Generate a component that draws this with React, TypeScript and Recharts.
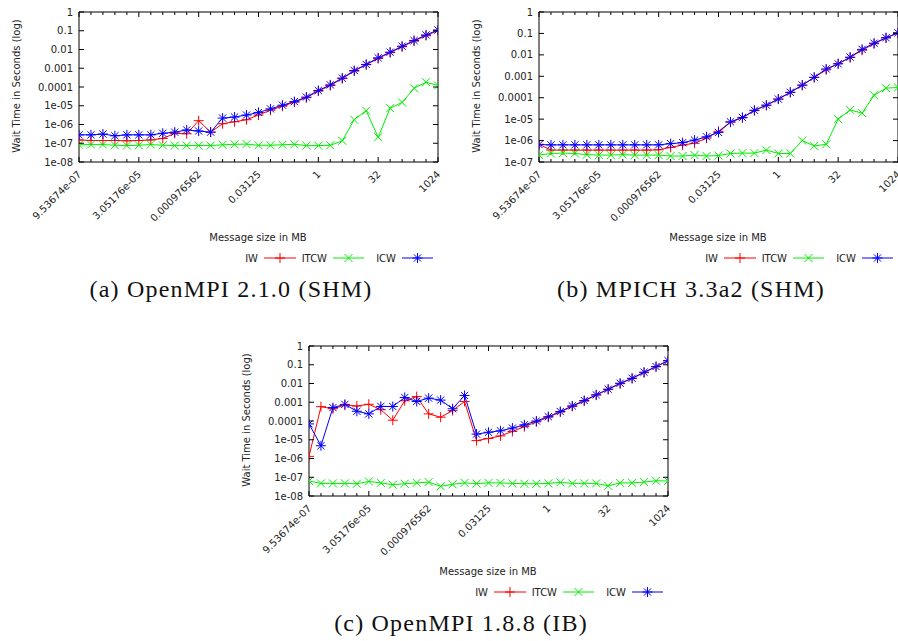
import React from 'react';
import { LineChart, Line, XAxis, YAxis, ReferenceArea } from 'recharts';

// message sizes in bytes, plotted in MB
const sizeBytes = [1, 2, 4, 8, 16, 32, 64, 128, 256, 512, 1024, 2048, 4096, 8192, 16384, 32768,
  65536, 131072, 262144, 524288, 1048576, 2097152, 4194304, 8388608, 16777216, 33554432,
  67108864, 134217728, 268435456, 536870912, 1073741824];
const sizeMB = sizeBytes.map((b) => b / 1048576);
const xTickLabels = ['9.53674e-07', '3.05176e-05', '0.000976562', '0.03125', '1', '32', '1024'];

const yTicks8 = [1e-8, 1e-7, 1e-6, 1e-5, 1e-4, 1e-3, 1e-2, 1e-1, 1];
const yLabels8 = ['1e-08', '1e-07', '1e-06', '1e-05', '0.0001', '0.001', '0.01', '0.1', '1'];
const yTicks7 = [1e-7, 1e-6, 1e-5, 1e-4, 1e-3, 1e-2, 1e-1, 1];
const yLabels7 = ['1e-07', '1e-06', '1e-05', '0.0001', '0.001', '0.01', '0.1', '1'];

// (a) OpenMPI 2.1.0 (SHM)
const iwA = [1.5e-7, 1.4e-7, 1.4e-7, 1.4e-7, 1.35e-7, 1.4e-7, 1.5e-7, 1.8e-7, 3.3e-7, 3.2e-7, 1.6e-6,
  3.9e-7, 1.1e-6, 1.4e-6, 1.8e-6, 3.2e-6, 5.8e-6, 9.5e-6, 1.55e-5, 2.7e-5, 6e-5, 1.2e-4, 2.8e-4,
  7e-4, 1.55e-3, 3.3e-3, 6.8e-3, 1.4e-2, 2.8e-2, 5.5e-2, 0.1];
const itcwA = [8.3e-8, 8.5e-8, 8.5e-8, 7.8e-8, 7.5e-8, 7.8e-8, 8.5e-8, 7.8e-8, 7.5e-8, 7.5e-8, 7.5e-8,
  7.5e-8, 8.3e-8, 8.8e-8, 9e-8, 7.8e-8, 7.8e-8, 8.3e-8, 8.8e-8, 7.5e-8, 7.5e-8, 7.8e-8, 1.35e-7,
  1.8e-6, 5.5e-6, 2.1e-7, 7.4e-6, 1.5e-5, 8.5e-5, 1.8e-4, 1.2e-4];
const icwA = [2.8e-7, 2.8e-7, 3.1e-7, 2.5e-7, 2.8e-7, 2.8e-7, 2.8e-7, 3.4e-7, 3.9e-7, 5.1e-7, 4.5e-7,
  3.9e-7, 2.2e-6, 2.5e-6, 3.2e-6, 4.4e-6, 6.8e-6, 1.07e-5, 1.66e-5, 2.9e-5, 6.5e-5, 1.3e-4, 3e-4,
  7.6e-4, 1.6e-3, 3.6e-3, 7.2e-3, 1.5e-2, 3e-2, 6e-2, 0.11];

// (b) MPICH 3.3a2 (SHM)
const iwB = [6.7e-7, 3.6e-7, 3.6e-7, 3.6e-7, 3.6e-7, 3.6e-7, 3.6e-7, 3.6e-7, 3.6e-7, 3.6e-7, 3.7e-7,
  4.8e-7, 6.2e-7, 7.5e-7, 1.3e-6, 2.7e-6, 7.2e-6, 1.15e-5, 2.5e-5, 4.4e-5, 8.5e-5, 1.75e-4, 3.8e-4,
  8.8e-4, 2e-3, 3.9e-3, 7.5e-3, 1.65e-2, 3.3e-2, 6.2e-2, 0.105];
const itcwB = [2.1e-7, 2.5e-7, 2.6e-7, 2.5e-7, 2.2e-7, 2.1e-7, 2.1e-7, 2.2e-7, 2.1e-7, 2.1e-7, 2.1e-7,
  1.9e-7, 1.9e-7, 2.1e-7, 1.9e-7, 2e-7, 2.5e-7, 2.6e-7, 2.6e-7, 3.6e-7, 2.5e-7, 2.5e-7, 1e-6,
  5.6e-7, 6.7e-7, 1e-5, 2.7e-5, 1.9e-5, 1.3e-4, 2.8e-4, 3e-4];
const icwB = [6.5e-7, 6.3e-7, 6.3e-7, 6.3e-7, 6.3e-7, 6.3e-7, 6.3e-7, 6.3e-7, 6.3e-7, 6.3e-7, 6.3e-7,
  7.2e-7, 8e-7, 1.05e-6, 1.5e-6, 2.4e-6, 7.5e-6, 1.2e-5, 2.6e-5, 4.5e-5, 8.7e-5, 1.8e-4, 3.9e-4,
  9e-4, 2.2e-3, 3.8e-3, 7.8e-3, 1.8e-2, 3.5e-2, 6.3e-2, 0.107];

// (c) OpenMPI 1.8.8 (IB)
const iwC = [1.3e-6, 5.8e-4, 4.5e-4, 7e-4, 6.3e-4, 7.8e-4, 4e-4, 1.1e-4, 1.2e-3, 2e-3, 2.4e-4,
  1.6e-4, 3.6e-4, 1.1e-3, 9e-6, 1.17e-5, 1.6e-5, 2.8e-5, 5e-5, 9e-5, 1.6e-4, 3e-4, 6e-4,
  1.15e-3, 2.4e-3, 4.8e-3, 9.8e-3, 1.85e-2, 3.8e-2, 7.8e-2, 0.16];
const itcwC = [6.3e-8, 4.7e-8, 4.7e-8, 4.7e-8, 4.5e-8, 6e-8, 5e-8, 4e-8, 4.5e-8, 5e-8, 5.5e-8,
  3.3e-8, 4.2e-8, 5e-8, 4.6e-8, 5e-8, 5e-8, 4.7e-8, 4.5e-8, 4.5e-8, 4.7e-8, 5.3e-8, 4.7e-8,
  4.7e-8, 4.7e-8, 3.5e-8, 5e-8, 5e-8, 5.5e-8, 6.5e-8, 6.3e-8];
const icwC = [7e-5, 4.8e-6, 5.2e-4, 7.7e-4, 3.3e-4, 2.4e-4, 6e-4, 5.9e-4, 1.8e-3, 1.1e-3, 1.66e-3,
  1.3e-3, 4.5e-4, 2.3e-3, 2e-5, 2.5e-5, 3e-5, 4.2e-5, 6.3e-5, 1e-4, 1.7e-4, 3.2e-4, 6.4e-4,
  1.24e-3, 2.5e-3, 5e-3, 1.03e-2, 1.9e-2, 4e-2, 8e-2, 0.166];

const RED = '#ff0000';
const GREEN = '#00ee00';
const BLUE = '#0000ff';
const FONT = 'DejaVu Sans';

const PLOT_L = 79;
const PLOT_T = 12;
const PLOT_W = 359;
const PLOT_H = 150;
const CHART_W = 450;
const CHART_H = 232;

function Plus({ cx, cy, color }: any) {
  const r = 5;
  return (
    <g stroke={color} strokeWidth={1}>
      <line x1={cx - r} y1={cy} x2={cx + r} y2={cy} />
      <line x1={cx} y1={cy - r} x2={cx} y2={cy + r} />
    </g>
  );
}

function Cross({ cx, cy, color }: any) {
  const r = 4;
  return (
    <g stroke={color} strokeWidth={1}>
      <line x1={cx - r} y1={cy - r} x2={cx + r} y2={cy + r} />
      <line x1={cx - r} y1={cy + r} x2={cx + r} y2={cy - r} />
    </g>
  );
}

function Star({ cx, cy, color }: any) {
  const r = 5;
  const d = 3.6;
  return (
    <g stroke={color} strokeWidth={1}>
      <line x1={cx - r} y1={cy} x2={cx + r} y2={cy} />
      <line x1={cx} y1={cy - r} x2={cx} y2={cy + r} />
      <line x1={cx - d} y1={cy - d} x2={cx + d} y2={cy + d} />
      <line x1={cx - d} y1={cy + d} x2={cx + d} y2={cy - d} />
    </g>
  );
}

function XTick(props: any) {
  const { x, y, payload } = props;
  const idx = sizeMB.findIndex((v) => Math.abs(v - payload.value) / v < 1e-6);
  const major = idx % 5 === 0;
  const len = major ? 5 : 3;
  return (
    <g>
      <line x1={x} y1={y} x2={x} y2={y - len} stroke="#000" />
      <line x1={x} y1={PLOT_T} x2={x} y2={PLOT_T + len} stroke="#000" />
      {major && (
        <text
          transform={`translate(${x + 3},${y + 13}) rotate(-45)`}
          textAnchor="end"
          fontFamily={FONT}
          fontSize={10}
          fill="#222"
        >
          {xTickLabels[idx / 5]}
        </text>
      )}
    </g>
  );
}

function makeYTick(labels: string[], ticks: number[]) {
  return function YTick(props: any) {
    const { x, y, payload } = props;
    const idx = ticks.findIndex((v) => Math.abs(v - payload.value) / v < 1e-6);
    return (
      <g>
        <line x1={x} y1={y} x2={x + 5} y2={y} stroke="#000" />
        <line x1={PLOT_L + PLOT_W - 5} y1={y} x2={PLOT_L + PLOT_W} y2={y} stroke="#000" />
        <text x={x - 6} y={y} dy="0.35em" textAnchor="end" fontFamily={FONT} fontSize={10} fill="#222">
          {labels[idx]}
        </text>
      </g>
    );
  };
}

function Legend() {
  const y = 258;
  const txt = { fontFamily: FONT, fontSize: 10, fill: '#222', textAnchor: 'end' as const };
  return (
    <g>
      <text x={258} y={y} dy="0.35em" {...txt}>IW</text>
      <line x1={264} y1={y} x2={296} y2={y} stroke={RED} />
      <Plus cx={280} cy={y} color={RED} />
      <text x={327} y={y} dy="0.35em" {...txt}>ITCW</text>
      <line x1={333} y1={y} x2={364} y2={y} stroke={GREEN} />
      <Cross cx={348.5} cy={y} color={GREEN} />
      <text x={396} y={y} dy="0.35em" {...txt}>ICW</text>
      <line x1={402} y1={y} x2={433} y2={y} stroke={BLUE} />
      <Star cx={417.5} cy={y} color={BLUE} />
    </g>
  );
}

type PanelProps = {
  left: number;
  top: number;
  iw: number[];
  itcw: number[];
  icw: number[];
  yTicks: number[];
  yLabels: string[];
  caption: string;
};

function Panel({ left, top, iw, itcw, icw, yTicks, yLabels, caption }: PanelProps) {
  const data = sizeMB.map((x, i) => ({ x, iw: iw[i], itcw: itcw[i], icw: icw[i] }));
  const yMin = yTicks[0];
  const yMax = yTicks[yTicks.length - 1];
  const YTick = makeYTick(yLabels, yTicks);
  return (
    <div style={{ position: 'absolute', left, top, width: CHART_W, height: 320 }}>
      <LineChart
        width={CHART_W}
        height={CHART_H}
        data={data}
        margin={{ top: PLOT_T, right: CHART_W - PLOT_L - PLOT_W, left: 0, bottom: 0 }}
      >
        <XAxis
          dataKey="x"
          type="number"
          scale="log"
          domain={[sizeMB[0], sizeMB[sizeMB.length - 1]]}
          ticks={sizeMB}
          interval={0}
          allowDataOverflow
          height={CHART_H - PLOT_T - PLOT_H}
          tickSize={0}
          tickMargin={0}
          axisLine={false}
          tickLine={false}
          tick={<XTick />}
        />
        <YAxis
          type="number"
          scale="log"
          domain={[yMin, yMax]}
          ticks={yTicks}
          interval={0}
          allowDataOverflow
          width={PLOT_L}
          tickSize={0}
          tickMargin={0}
          axisLine={false}
          tickLine={false}
          tick={<YTick />}
        />
        <ReferenceArea
          x1={sizeMB[0]}
          x2={sizeMB[sizeMB.length - 1]}
          y1={yMin}
          y2={yMax}
          fill="none"
          fillOpacity={0}
          stroke="#000"
          strokeWidth={1}
          ifOverflow="visible"
        />
        <Line
          dataKey="iw"
          stroke={RED}
          strokeWidth={1}
          isAnimationActive={false}
          dot={(p: any) => <Plus key={`iw${p.index}`} cx={p.cx} cy={p.cy} color={RED} />}
        />
        <Line
          dataKey="itcw"
          stroke={GREEN}
          strokeWidth={1}
          isAnimationActive={false}
          dot={(p: any) => <Cross key={`it${p.index}`} cx={p.cx} cy={p.cy} color={GREEN} />}
        />
        <Line
          dataKey="icw"
          stroke={BLUE}
          strokeWidth={1}
          isAnimationActive={false}
          dot={(p: any) => <Star key={`ic${p.index}`} cx={p.cx} cy={p.cy} color={BLUE} />}
        />
      </LineChart>
      <svg width={CHART_W} height={320} style={{ position: 'absolute', left: 0, top: 0, pointerEvents: 'none' }}>
        <text
          transform="translate(20,86) rotate(-90)"
          textAnchor="middle"
          fontFamily={FONT}
          fontSize={10}
          fill="#222"
        >
          Wait Time in Seconds (log)
        </text>
        <text x={258} y={237} dy="0.35em" textAnchor="middle" fontFamily={FONT} fontSize={10} fill="#222">
          Message size in MB
        </text>
        <Legend />
        <text
          x={231}
          y={289}
          dy="0.35em"
          textAnchor="middle"
          fontFamily="Liberation Serif"
          fontSize={24}
          letterSpacing={1.2}
          fill="#111"
        >
          {caption}
        </text>
      </svg>
    </div>
  );
}

export default function App() {
  return (
    <div
      style={{
        position: 'absolute',
        left: 0,
        top: 0,
        width: 898,
        height: 641,
        overflow: 'hidden',
        background: '#fff',
      }}
    >
      <Panel left={0} top={0} iw={iwA} itcw={itcwA} icw={icwA} yTicks={yTicks8} yLabels={yLabels8}
        caption="(a) OpenMPI 2.1.0 (SHM)" />
      <Panel left={460} top={0} iw={iwB} itcw={itcwB} icw={icwB} yTicks={yTicks7} yLabels={yLabels7}
        caption="(b) MPICH 3.3a2 (SHM)" />
      <Panel left={230} top={334} iw={iwC} itcw={itcwC} icw={icwC} yTicks={yTicks8} yLabels={yLabels8}
        caption="(c) OpenMPI 1.8.8 (IB)" />
    </div>
  );
}
